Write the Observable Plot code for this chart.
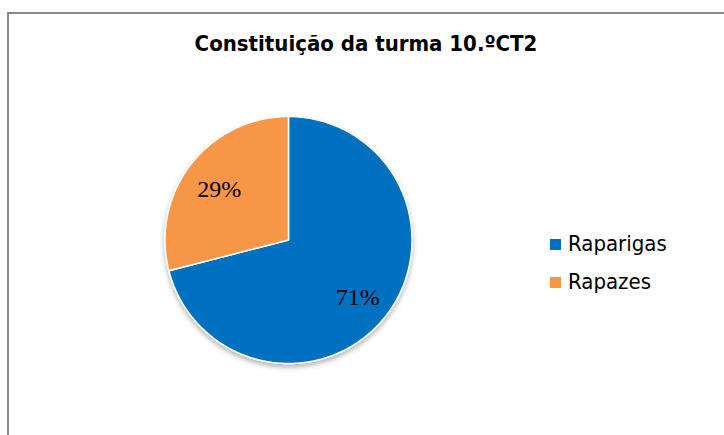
<!DOCTYPE html>
<html>
<head>
<meta charset="utf-8">
<script src="https://cdn.jsdelivr.net/npm/d3@7"></script>
<script src="https://cdn.jsdelivr.net/npm/@observablehq/plot@0.6"></script>
<style>
  html, body { margin: 0; padding: 0; background: #fff; }
  #wrap { position: relative; width: 724px; height: 435px; overflow: hidden; background: #fff; }
  #border { position: absolute; left: 7px; top: 12px; width: 900px; height: 600px; border: 2px solid #898989; box-sizing: border-box; }
  #title { position: absolute; left: 0; width: 732px; top: 30px; text-align: center; font-family: "DejaVu Sans Condensed", "DejaVu Sans", sans-serif; font-stretch: condensed; font-weight: bold; font-size: 22px; line-height: 28px; color: #000; }
  #chart { position: absolute; left: 0; top: 0; }
  #legend { position: absolute; left: 550px; top: 230px; font-family: "DejaVu Sans Condensed", "DejaVu Sans", sans-serif; font-stretch: condensed; font-size: 22px; color: #000; }
  .item { position: absolute; left: 0; height: 28px; line-height: 28px; white-space: nowrap; }
  .sw { position: absolute; left: 0; top: 9px; width: 11px; height: 11px; }
  .lab { position: absolute; left: 18px; top: 0; }
</style>
</head>
<body>
<div id="wrap">
  <div id="border"></div>
  <div id="chart"></div>
  <div id="title">Constituição da turma 10.ºCT2</div>
  <div id="legend"></div>
</div>
<script>
// Data
const categories = ["Raparigas", "Rapazes"];
const values = [71, 29];
const colors = ["#0070C0", "#F79646"];

const total = d3.sum(values);
const pie = d3.pie().sort(null).startAngle(0).endAngle(2 * Math.PI);
const arcs = pie(values).map((a, i) => ({
  name: categories[i],
  value: values[i],
  start: a.startAngle,
  end: a.endAngle,
  mid: (a.startAngle + a.endAngle) / 2,
  label: Math.round(values[i] / total * 100) + "%"
}));

// Outline points of each slice (center -> arc -> center)
const pts = [];
for (const a of arcs) {
  pts.push({name: a.name, x: 0, y: 0});
  const n = Math.max(2, Math.ceil((a.end - a.start) / (Math.PI / 180)));
  for (let k = 0; k <= n; ++k) {
    const t = a.start + (a.end - a.start) * k / n;
    pts.push({name: a.name, x: Math.sin(t), y: Math.cos(t)});
  }
  pts.push({name: a.name, x: 0, y: 0});
}

const labelR = 0.71;
const chart = Plot.plot({
  width: 724,
  height: 435,
  margin: 0,
  x: {domain: [-1, 1], range: [164.5, 411.5], axis: null},
  y: {domain: [-1, 1], range: [363, 116], axis: null},
  color: {domain: categories, range: colors},
  style: {background: "transparent"},
  marks: [
    Plot.line(pts, {x: "x", y: "y", z: "name", fill: "name", stroke: "white", strokeWidth: 1.5, curve: "linear"}),
    Plot.text(arcs, {
      x: d => labelR * Math.sin(d.mid),
      y: d => labelR * Math.cos(d.mid),
      dy: 3.5,
      text: "label",
      fontFamily: "Liberation Serif, Times New Roman, serif",
      fontSize: 24,
      fill: "#000"
    })
  ]
});
document.getElementById("chart").appendChild(chart);

// subtle drop shadow under the pie
const svg = d3.select(chart);
const defs = svg.insert("defs", ":first-child");
const f = defs.append("filter").attr("id", "pieshadow").attr("x", "-20%").attr("y", "-20%").attr("width", "140%").attr("height", "140%");
f.append("feDropShadow").attr("dx", 0).attr("dy", 3).attr("stdDeviation", 2.5).attr("flood-color", "#000").attr("flood-opacity", 0.3);
svg.select('g[aria-label="line"]').attr("filter", "url(#pieshadow)");

// Legend
const legend = d3.select("#legend");
categories.forEach((c, i) => {
  const item = legend.append("div").attr("class", "item").style("top", (i * 37.5) + "px");
  item.append("div").attr("class", "sw").style("background", colors[i]);
  item.append("div").attr("class", "lab").text(c);
});
</script>
</body>
</html>
